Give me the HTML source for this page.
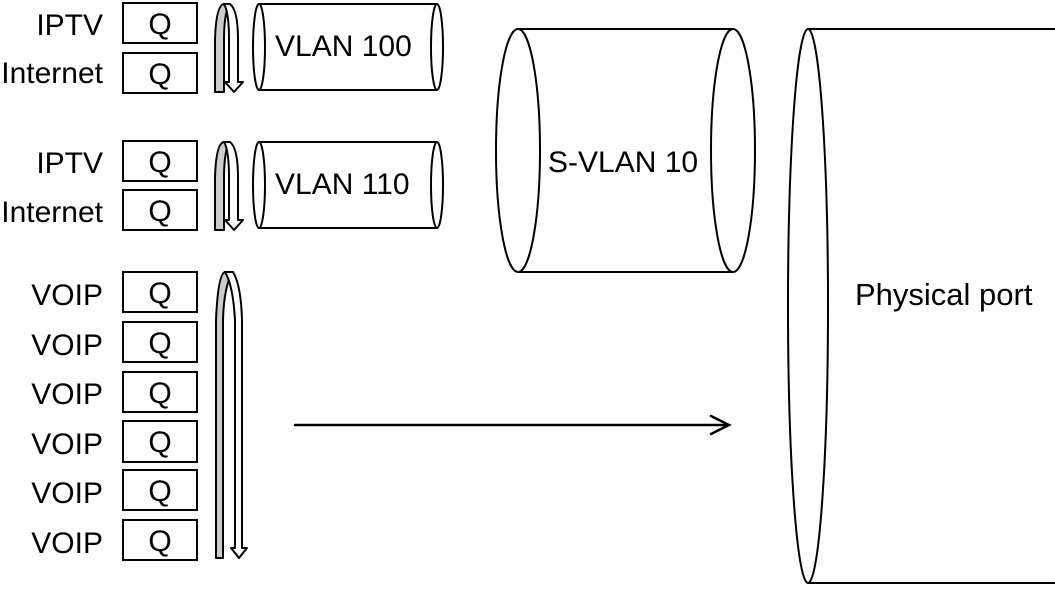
<!DOCTYPE html>
<html><head><meta charset="utf-8"><style>
html,body{margin:0;padding:0;background:#fff;}
svg{display:block;}
text{font-family:"Liberation Sans",Arial,sans-serif;fill:#000;}
</style></head><body>
<svg width="1055" height="593" viewBox="0 0 1055 593" xmlns="http://www.w3.org/2000/svg">
<g font-size="30" text-anchor="end">
<text x="103" y="35">IPTV</text>
<text x="103" y="83">Internet</text>
<text x="103" y="173">IPTV</text>
<text x="103" y="222">Internet</text>
<text x="103" y="305">VOIP</text>
<text x="103" y="355">VOIP</text>
<text x="103" y="404">VOIP</text>
<text x="103" y="454">VOIP</text>
<text x="103" y="503">VOIP</text>
<text x="103" y="553">VOIP</text>
</g>
<g fill="#fff" stroke="#000" stroke-width="2">
<rect x="123" y="3" width="74" height="40"/>
<rect x="123" y="53" width="74" height="40"/>
<rect x="123" y="141" width="74" height="40"/>
<rect x="123" y="190" width="74" height="40"/>
<rect x="123" y="272" width="74" height="40"/>
<rect x="123" y="322" width="74" height="40"/>
<rect x="123" y="372" width="74" height="40"/>
<rect x="123" y="421" width="74" height="41"/>
<rect x="123" y="470" width="74" height="40"/>
<rect x="123" y="520" width="74" height="40"/>
</g>
<g font-size="30" text-anchor="middle">
<text x="160" y="34">Q</text>
<text x="160" y="84">Q</text>
<text x="160" y="172">Q</text>
<text x="160" y="221">Q</text>
<text x="160" y="303">Q</text>
<text x="160" y="353">Q</text>
<text x="160" y="403">Q</text>
<text x="160" y="452">Q</text>
<text x="160" y="501">Q</text>
<text x="160" y="551">Q</text>
</g>
<g stroke="#000" stroke-width="2" stroke-linejoin="round">
<path d="M215,92 L215,40 Q216,5 224,4 L230,4 Q224,12 224,40 L224,92 Z" fill="#ccc"/>
<path d="M224,4 L230,4 Q238,10 238,40 L238,82 L243,82 L234,92 L225,82 L229,82 L229,40 Q229,12 224,4 Z" fill="#fff"/>
<path d="M215,230 L215,178 Q216,143 224,142 L230,142 Q224,150 224,178 L224,230 Z" fill="#ccc"/>
<path d="M224,142 L230,142 Q238,148 238,178 L238,220 L243,220 L234,230 L225,220 L229,220 L229,178 Q229,150 224,142 Z" fill="#fff"/>
<path d="M216,558 L216,320 Q218,274 225,272 L233,272 Q224,285 223,320 L223,558 Z" fill="#ccc"/>
<path d="M225,272 L233,272 Q241,285 242,320 L242,548 L247,548 L239,558 L231,548 L235,548 L235,320 Q233,285 225,272 Z" fill="#fff"/>
</g>
<g fill="#fff" stroke="#000" stroke-width="2">
<path d="M259,4 L437,4 M259,90 L437,90"/>
<ellipse cx="259" cy="47" rx="6" ry="43"/>
<ellipse cx="437" cy="47" rx="6" ry="43"/>
<path d="M259,142 L437,142 M259,228 L437,228"/>
<ellipse cx="259" cy="185" rx="6" ry="43"/>
<ellipse cx="437" cy="185" rx="6" ry="43"/>
</g>
<text x="275" y="56" font-size="30">VLAN 100</text>
<text x="275" y="194" font-size="30">VLAN 110</text>
<g fill="none" stroke="#000" stroke-width="2">
<path d="M518,29 L733,29 M518,272 L733,272"/>
<ellipse cx="518" cy="150.5" rx="22" ry="121.5"/>
<ellipse cx="733" cy="150.5" rx="22" ry="121.5"/>
</g>
<text x="548" y="172" font-size="30">S-VLAN 10</text>
<g fill="none" stroke="#000" stroke-width="2">
<path d="M808,29 L1055,29 M808,583 L1055,583"/>
<ellipse cx="808" cy="306" rx="20" ry="277"/>
</g>
<text x="855" y="305" font-size="31">Physical port</text>
<g stroke="#000" stroke-width="2.5" fill="none" stroke-linecap="round">
<path d="M295,425 L728,425"/>
<path d="M711,416 L729,425 L711,434"/>
</g>
</svg>
</body></html>
